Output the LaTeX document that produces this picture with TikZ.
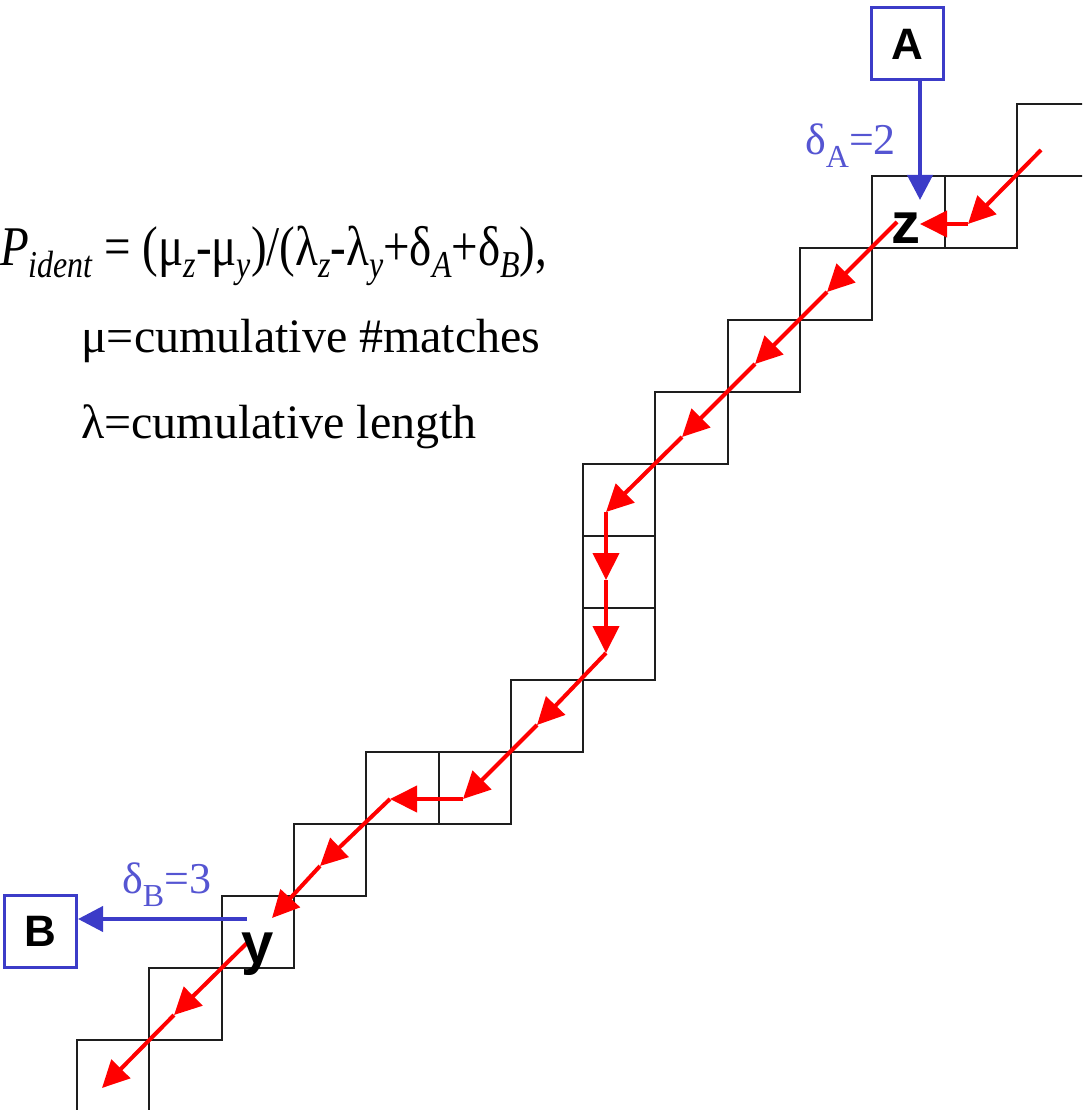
\documentclass[tikz,border=0pt]{standalone}
\usepackage{fontspec}
\usepackage{graphicx}
\setmainfont{Liberation Serif}
\newfontfamily\labfont{Liberation Sans}
\usetikzlibrary{arrows.meta}
\definecolor{pathred}{RGB}{255,0,0}
\definecolor{boxblue}{RGB}{60,60,200}
\definecolor{txtblue}{RGB}{85,85,210}
\definecolor{gridgray}{RGB}{30,30,30}
\newcommand\lsub[1]{\raisebox{-12pt}{\fontsize{38}{38}\selectfont\itshape #1}}
\newcommand\dsub[1]{\raisebox{-13pt}{\fontsize{32}{32}\selectfont #1}}
\begin{document}
\begin{tikzpicture}[x=1pt,y=-1pt,
  cell/.style={draw=gridgray,line width=2pt},
  redarrow/.style={draw=pathred,line width=4pt,-{Triangle[length=27pt,width=26pt]}},
  bluearrow/.style={draw=boxblue,line width=4pt,-{Triangle[length=25pt,width=25pt]}},
  bluebox/.style={draw=boxblue,line width=3pt,minimum width=72pt,minimum height=72pt,inner sep=0pt,font=\labfont\bfseries\fontsize{44}{44}\selectfont},
  letter/.style={font=\labfont\bfseries\fontsize{58}{58}\selectfont,inner sep=0pt,anchor=base},
  formula/.style={anchor=base west,inner sep=0pt},
  delta/.style={anchor=base west,inner sep=0pt,text=txtblue,font=\fontsize{44}{44}\selectfont}]
\useasboundingbox (0,0) rectangle (1082,1110);
\begin{scope}
\clip (0,0) rectangle (1082,1110);
\foreach \i/\j in {13/0,11/1,12/1,10/2,9/3,8/4,7/5,7/6,7/7,6/8,4/9,5/9,3/10,2/11,1/12,0/13}
  \draw[cell] ({77+72.3*\i},{104+72*\j}) rectangle ++(72.3,72);
\end{scope}
% red path points
\coordinate (p0) at (1041,150);
\coordinate (p1) at (968,224);
\coordinate (p2) at (920,224);
\coordinate (s3) at (897,222);
\coordinate (p3) at (827,292);
\coordinate (p4) at (755,364);
\coordinate (p5) at (682,437);
\coordinate (p6) at (606,512);
\coordinate (p7) at (606,580);
\coordinate (p8) at (606,653);
\coordinate (p9) at (537,725);
\coordinate (p10) at (463,799);
\coordinate (p11) at (390,799);
\coordinate (p12) at (320,866);
\coordinate (p13) at (272,918);
\coordinate (s14) at (247,943);
\coordinate (p14) at (174,1015);
\coordinate (p15) at (102,1088);
\foreach \a/\b in {p0/p1,p1/p2,s3/p3,p3/p4,p4/p5,p5/p6,p6/p7,p7/p8,p8/p9,p9/p10,p10/p11,p11/p12,p12/p13,s14/p14,p14/p15}
  \draw[redarrow] (\a) -- (\b);
% blue boxes and arrows
\node[bluebox] (A) at (907,44) {A};
\node[bluebox] (B) at (40.5,931) {B};
\coordinate (ztop) at (920,200);
\coordinate (yleft) at (247,919);
\draw[bluearrow] (ztop |- A.south) -- (ztop);
\draw[bluearrow] (yleft) -- (yleft -| B.east);
\node[delta] (dA) at (805,155) {δ\dsub{A}=2};
\node[delta] (dB) at (122,893) {δ\dsub{B}=3};
% letters
\node[letter] (z) at (906,243) {z};
\node[letter] (y) at (257.5,963) {y};
% formula
\node[formula,font=\fontsize{56}{60}\selectfont] (f1) at (0,265)
  {\scalebox{0.84}[1]{\textit{P}\lsub{ident} = (μ\lsub{z}-μ\lsub{y})/(λ\lsub{z}-λ\lsub{y}+δ\lsub{A}+δ\lsub{B}),}};
\node[formula,font=\fontsize{48}{54}\selectfont] (f2) at (81,352) {μ=cumulative \#matches};
\node[formula,font=\fontsize{48}{54}\selectfont] (f3) at (81,438) {λ=cumulative length};
\end{tikzpicture}
\end{document}
